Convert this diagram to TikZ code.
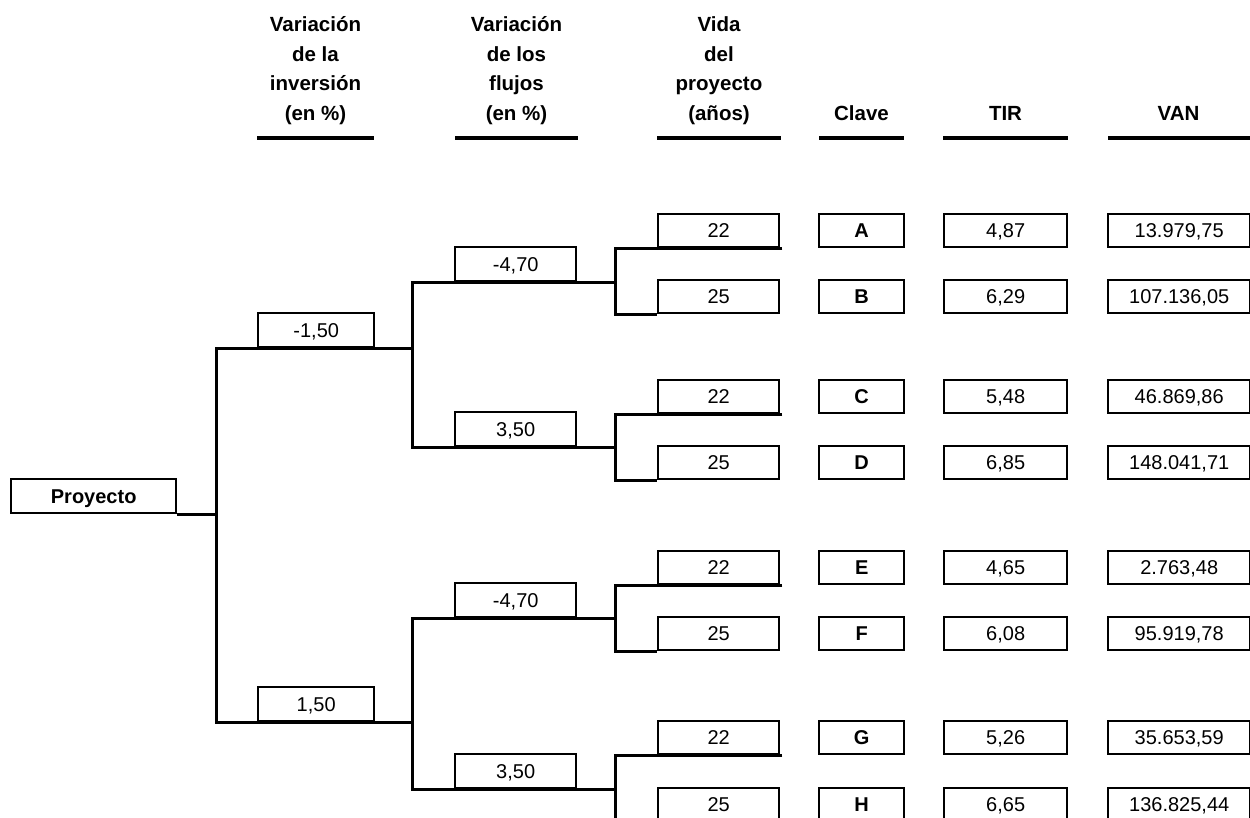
\documentclass[tikz,border=0pt]{standalone}
\usepackage{fontspec}
\setmainfont{Liberation Sans}
\begin{document}
\begin{tikzpicture}[x=1pt,y=-1pt,
  cell/.style={draw, line width=2.4pt, inner sep=0pt, anchor=north west, text height=14.4pt, text depth=0pt, font=\fontsize{20}{24}\selectfont},
  bcell/.style={cell, font=\bfseries\fontsize{20}{24}\selectfont},
  vida/.style={cell, minimum width=121pt, minimum height=33pt},
  clave/.style={bcell, minimum width=85pt, minimum height=33pt},
  tir/.style={cell, minimum width=123pt, minimum height=33pt},
  van/.style={cell, minimum width=142pt, minimum height=33pt},
  inv/.style={cell, minimum width=116pt, minimum height=34pt},
  flu/.style={cell, minimum width=121pt, minimum height=34pt},
  conn/.style={line width=3pt, line join=miter},
  hdr/.style={align=center, inner sep=0pt, anchor=south, font=\bfseries\fontsize{20.5}{29.5}\selectfont},
  hdrone/.style={inner sep=0pt, anchor=base, font=\bfseries\fontsize{20.5}{29.5}\selectfont},
  hline/.style={line width=3.2pt}]
\useasboundingbox (0,0) rectangle (1250,817);
\clip (0,0) rectangle (1250,817);

% headers
\node[hdr] (h1) at (315.5,124.5) {Variación\\de la\\inversión\\(en \%)};
\node[hdr] (h2) at (516.5,124.5) {Variación\\de los\\flujos\\(en \%)};
\node[hdr] (h3) at (719,124.5) {Vida\\del\\proyecto\\(años)};
\node[hdrone] (h4) at (861.5,120) {Clave};
\node[hdrone] (h5) at (1005.5,120) {TIR};
\node[hdrone] (h6) at (1178.5,120) {VAN};
\coordinate (l1a) at (257,138); \coordinate (l1b) at (374,138);
\coordinate (l2a) at (455,138); \coordinate (l2b) at (578,138);
\coordinate (l3a) at (657,138); \coordinate (l3b) at (781,138);
\coordinate (l4a) at (819,138); \coordinate (l4b) at (904,138);
\coordinate (l5a) at (943,138); \coordinate (l5b) at (1068,138);
\coordinate (l6a) at (1108,138); \coordinate (l6b) at (1250,138);
\draw[hline] (l1a) -- (l1b);
\draw[hline] (l2a) -- (l2b);
\draw[hline] (l3a) -- (l3b);
\draw[hline] (l4a) -- (l4b);
\draw[hline] (l5a) -- (l5b);
\draw[hline] (l6a) -- (l6b);

% root
\node[bcell, minimum width=165pt, minimum height=34pt] (pro) at (10,478) {Proyecto};

% inversion
\node[inv] (i1) at (257,312) {-1,50};
\node[inv] (i2) at (257,686) {1,50};

% flujos
\node[flu] (f1) at (454,246) {-4,70};
\node[flu] (f2) at (454,411) {3,50};
\node[flu] (f3) at (454,582) {-4,70};
\node[flu] (f4) at (454,753) {3,50};

% vida
\node[vida] (va) at (657,213) {22};
\node[vida] (vb) at (657,279) {25};
\node[vida] (vc) at (657,379) {22};
\node[vida] (vd) at (657,445) {25};
\node[vida] (ve) at (657,550) {22};
\node[vida] (vf) at (657,616) {25};
\node[vida] (vg) at (657,720) {22};
\node[vida] (vh) at (657,787) {25};

% clave
\node[clave] (ka) at (818,213) {A};
\node[clave] (kb) at (818,279) {B};
\node[clave] (kc) at (818,379) {C};
\node[clave] (kd) at (818,445) {D};
\node[clave] (ke) at (818,550) {E};
\node[clave] (kf) at (818,616) {F};
\node[clave] (kg) at (818,720) {G};
\node[clave] (kh) at (818,787) {H};

% TIR
\node[tir] (ta) at (943,213) {4,87};
\node[tir] (tb) at (943,279) {6,29};
\node[tir] (tc) at (943,379) {5,48};
\node[tir] (td) at (943,445) {6,85};
\node[tir] (te) at (943,550) {4,65};
\node[tir] (tf) at (943,616) {6,08};
\node[tir] (tg) at (943,720) {5,26};
\node[tir] (th) at (943,787) {6,65};

% VAN
\node[van] (na) at (1107,213) {13.979,75};
\node[van] (nb) at (1107,279) {107.136,05};
\node[van] (nc) at (1107,379) {46.869,86};
\node[van] (nd) at (1107,445) {148.041,71};
\node[van] (ne) at (1107,550) {2.763,48};
\node[van] (nf) at (1107,616) {95.919,78};
\node[van] (ng) at (1107,720) {35.653,59};
\node[van] (nh) at (1107,787) {136.825,44};

% connectors
\coordinate (c0) at (216,0);
\coordinate (c1) at (412,0);
\coordinate (c2) at (615,0);
\draw[conn] (pro.south east) -- (c0 |- pro.south);
\draw[conn] (c1 |- i1.south) -- (c0 |- i1.south) -- (c0 |- i2.south) -- (c1 |- i2.south);
\draw[conn] (c2 |- f1.south) -- (c1 |- f1.south) -- (c1 |- f2.south) -- (c2 |- f2.south);
\draw[conn] (c2 |- f3.south) -- (c1 |- f3.south) -- (c1 |- f4.south) -- (c2 |- f4.south);
\draw[conn] ([xshift=2pt]va.south east) -- (c2 |- va.south) -- (c2 |- vb.south) -- (vb.south west);
\draw[conn] ([xshift=2pt]vc.south east) -- (c2 |- vc.south) -- (c2 |- vd.south) -- (vd.south west);
\draw[conn] ([xshift=2pt]ve.south east) -- (c2 |- ve.south) -- (c2 |- vf.south) -- (vf.south west);
\draw[conn] ([xshift=2pt]vg.south east) -- (c2 |- vg.south) -- (c2 |- vh.south) -- (vh.south west);
\end{tikzpicture}
\end{document}
